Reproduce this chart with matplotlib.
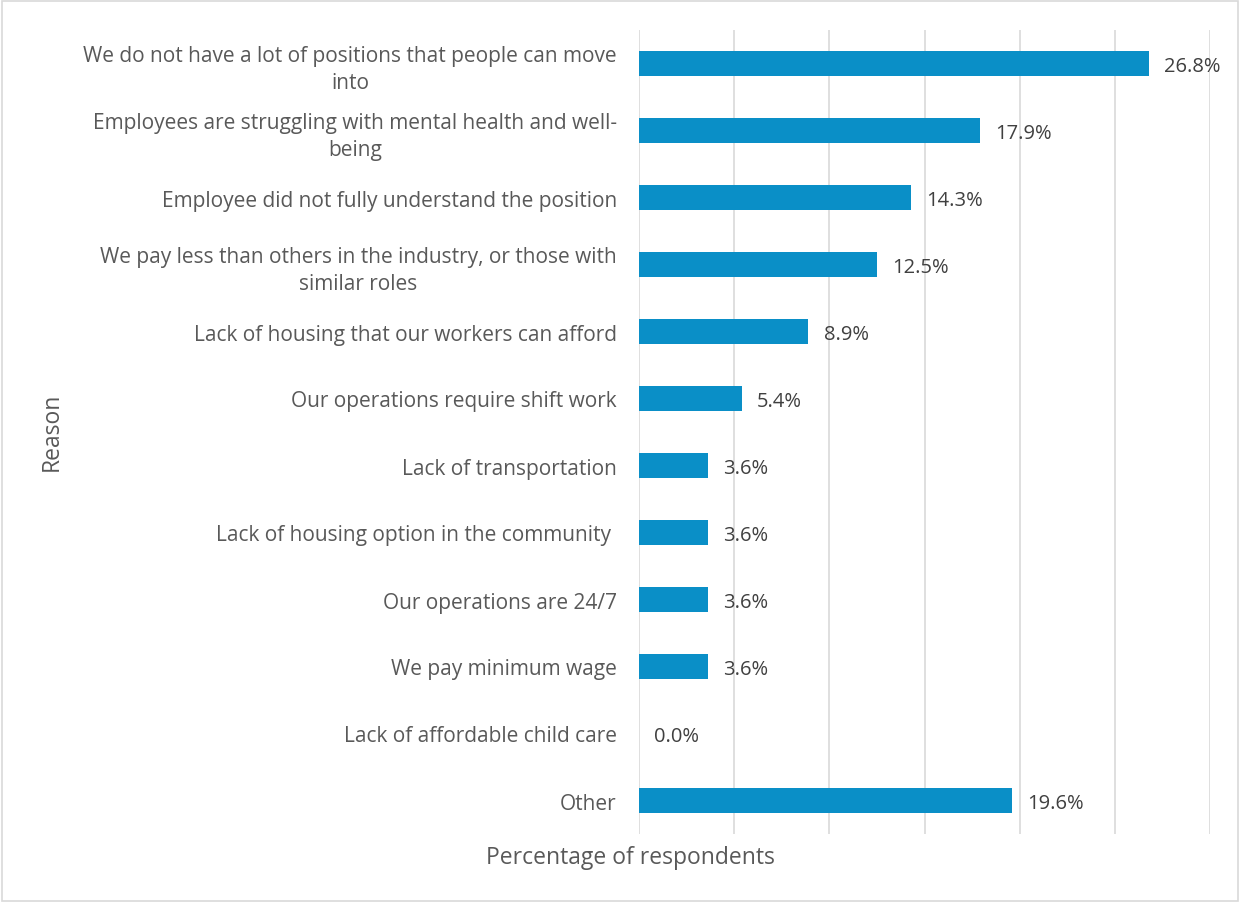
import matplotlib.pyplot as plt
from matplotlib.patches import Rectangle

plt.rcParams['font.family'] = ['Open Sans', 'DejaVu Sans']

# Reasons and share of respondents (%)
reasons = [
    "We do not have a lot of positions that people can move\ninto",
    "Employees are struggling with mental health and well-\nbeing",
    "Employee did not fully understand the position",
    "We pay less than others in the industry, or those with\nsimilar roles",
    "Lack of housing that our workers can afford",
    "Our operations require shift work",
    "Lack of transportation",
    "Lack of housing option in the community ",
    "Our operations are 24/7",
    "We pay minimum wage",
    "Lack of affordable child care",
    "Other",
]
percentages = [26.8, 17.9, 14.3, 12.5, 8.9, 5.4, 3.6, 3.6, 3.6, 3.6, 0.0, 19.6]

bar_color = "#0A8FC7"
text_color = "#595959"

fig = plt.figure(figsize=(12.4, 9.04), dpi=100)
ax = fig.add_axes([639 / 1240, 1 - 835 / 904, 571 / 1240, 804 / 904])

pos = list(range(len(reasons)))
ax.barh(pos, percentages, height=0.36, color=bar_color, edgecolor="none", zorder=3)

for y, v in zip(pos, percentages):
    ax.text(v + 0.8, y + 0.03, f"{v:.1f}%", va="center", ha="left", fontsize=14.5, color="#404040")

ax.set_xlim(0, 30)
ax.set_ylim(len(reasons) - 0.5, -0.5)
ax.set_xticks([0, 5, 10, 15, 20, 25, 30])
ax.set_xticklabels([])
ax.xaxis.grid(True, color="#D9D9D9", linewidth=1.2, zorder=0)
ax.tick_params(axis="x", length=0)
ax.tick_params(axis="y", length=0, pad=16, labelsize=15, labelcolor=text_color)
ax.set_yticks(pos)
ax.set_yticklabels(reasons, multialignment="center", linespacing=1.35)
for s in ax.spines.values():
    s.set_visible(False)

fig.text(630 / 1240, 1 - 858 / 904, "Percentage of respondents", ha="center", va="center",
         fontsize=16.5, color=text_color)
fig.text(52 / 1240, 1 - 432 / 904, "Reason", ha="center", va="center", rotation=90,
         fontsize=16.5, color=text_color)

# thin frame round the whole chart
fig.patches.append(Rectangle((0.002, 0.002), 0.996, 0.996, transform=fig.transFigure,
                             fill=False, edgecolor="#D9D9D9", linewidth=1.2))

fig.savefig("out.png", dpi=100)
